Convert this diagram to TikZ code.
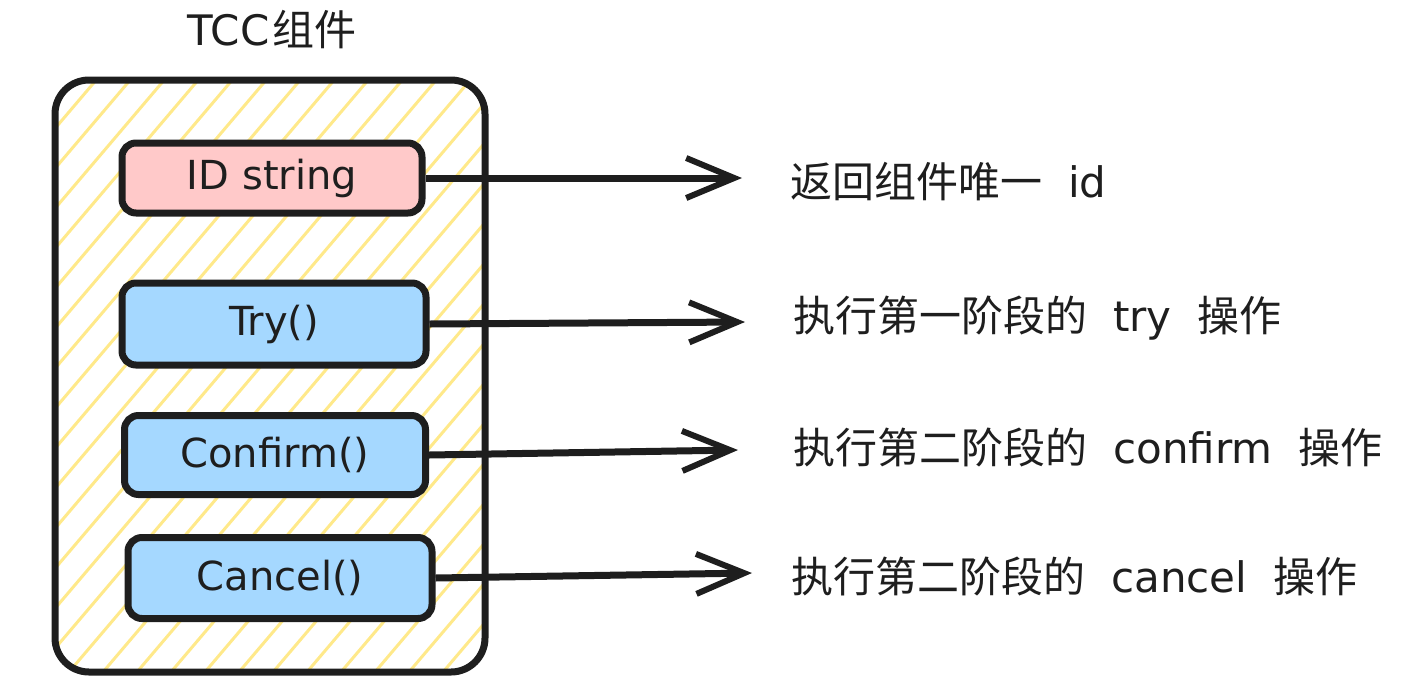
\documentclass[tikz,border=0pt]{standalone}
\usepackage{fontspec}
\setmainfont{DejaVu Sans}
\newfontfamily\cjk{Noto Sans CJK SC}
\usetikzlibrary{arrows.meta}
\definecolor{ink}{HTML}{1E1E1E}
\definecolor{pinkfill}{HTML}{FFC9C9}
\definecolor{bluefill}{HTML}{A5D8FF}
\definecolor{hatchyellow}{HTML}{FFE98A}
\newcommand{\gap}{\hspace{26pt}}
\tikzset{
  component/.style={draw=ink, line width=7pt, rounded corners=34pt,
    minimum width=430pt, minimum height=592pt,
    path picture={\foreach \k in {-700,-666,...,460}
      \draw[hatchyellow, line width=3pt] ([xshift=\k pt]path picture bounding box.south west) -- ++(680pt,800pt);}},
  method/.style={draw=ink, line width=7pt, rounded corners=14pt, fill=bluefill,
    minimum width=300pt, minimum height=80pt, inner sep=0pt, text=ink,
    font=\fontsize{40}{46}\selectfont},
  callout/.style={draw=ink, line width=7pt, -{Straight Barb[length=48pt,width=40pt,line width=6pt]}},
  note/.style={anchor=west, inner sep=0pt, text=ink, font=\fontsize{42}{48}\selectfont},
}
\begin{document}
\begin{tikzpicture}[x=1pt,y=-1pt]
  \useasboundingbox (0,0) rectangle (1408,694);
  % title and outer component
  \node[text=ink, font=\fontsize{42}{48}\selectfont] (title) at (272,30) {TCC\hspace{3pt}{\cjk 组件}};
  \node[component] (tcc) at (270,376) {};
  % methods
  \node[method, fill=pinkfill, minimum height=70pt] (idbox) at (272,178) {ID string};
  \node[method, minimum width=304pt, minimum height=82pt] (trybox) at (274,324) {Try()};
  \node[method, minimum width=301pt, minimum height=79pt] (confirmbox) at (275,455) {Confirm()};
  \node[method, minimum width=304pt, minimum height=81pt] (cancelbox) at (280,578) {Cancel()};
  % arrow tips
  \coordinate (idtip) at (742,178);
  \coordinate (trytip) at (745,322);
  \coordinate (confirmtip) at (738,450);
  \coordinate (canceltip) at (752,573);
  \draw[callout] (idbox.east) -- (idtip);
  \draw[callout] (trybox.east) -- (trytip);
  \draw[callout] (confirmbox.east) -- (confirmtip);
  \draw[callout] (cancelbox.east) -- (canceltip);
  % descriptions
  \node[note] (idtxt) at (790,182) {{\cjk 返回组件唯一}\gap id};
  \node[note] (trytxt) at (793,318) {{\cjk 执行第一阶段的}\gap try\gap{\cjk 操作}};
  \node[note] (confirmtxt) at (793,447) {{\cjk 执行第二阶段的}\gap confirm\gap{\cjk 操作}};
  \node[note] (canceltxt) at (791,576) {{\cjk 执行第二阶段的}\gap cancel\gap{\cjk 操作}};
\end{tikzpicture}
\end{document}
